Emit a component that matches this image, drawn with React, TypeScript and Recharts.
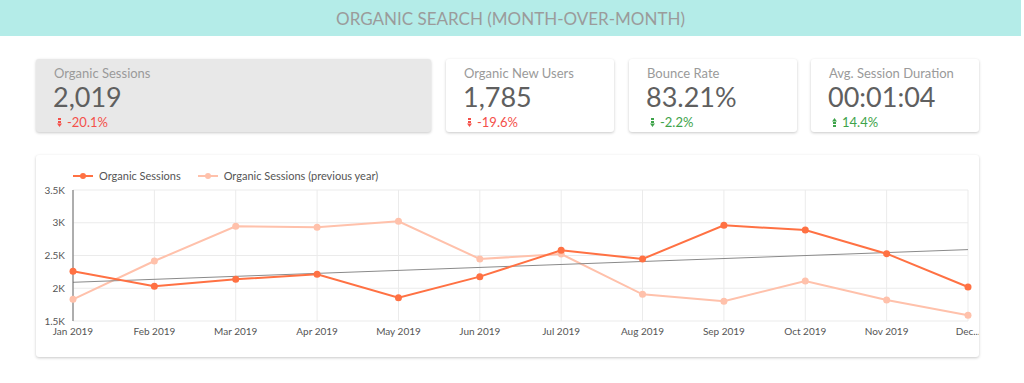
import { LineChart, Line, XAxis, YAxis, CartesianGrid, Legend, ReferenceLine } from "recharts";

const months = [
  "Jan 2019", "Feb 2019", "Mar 2019", "Apr 2019", "May 2019", "Jun 2019",
  "Jul 2019", "Aug 2019", "Sep 2019", "Oct 2019", "Nov 2019", "Dec 2019",
];
const sessions = [2260, 2030, 2137, 2213, 1856, 2177, 2579, 2447, 2961, 2889, 2528, 2019];
const sessionsPrevYear = [1831, 2416, 2946, 2930, 3022, 2447, 2523, 1908, 1801, 2111, 1821, 1587];
// trend line (start = Jan, end = Dec)
const trendEnds = [2091, 2590];
const yTicks = [1500, 2000, 2500, 3000, 3500];
const gridValues = [1500, 1750, 2000, 2250, 2500, 2750, 3000, 3250, 3500];

const kpiTitles = ["Organic Sessions", "Organic New Users", "Bounce Rate", "Avg. Session Duration"];
const kpiValues = ["2,019", "1,785", "83.21%", "00:01:04"];
const kpiDeltas = ["-20.1%", "-19.6%", "-2.2%", "14.4%"];
const kpiDeltaUp = [false, false, false, true];
const kpiDeltaGood = [false, false, true, true];

const SESSIONS_COLOR = "#ff7143";
const PREV_COLOR = "#ffc1ab";
const FONT = "Lato, 'Open Sans', sans-serif";

const cardBoxes = [
  { left: 36, width: 395, bg: "#e8e8e8" },
  { left: 446, width: 168, bg: "#fff" },
  { left: 629, width: 168, bg: "#fff" },
  { left: 811, width: 168, bg: "#fff" },
];

const chartData = months.map((month, i) => ({
  month,
  sessions: sessions[i],
  prev: sessionsPrevYear[i],
}));

const legendItems = [
  { name: "Organic Sessions", color: SESSIONS_COLOR },
  { name: "Organic Sessions (previous year)", color: PREV_COLOR },
];

function Arrow({ up, color }: { up: boolean; color: string }) {
  return (
    <svg width="5" height="9" viewBox="0 0 5 9" style={{ marginRight: 5, transform: up ? "rotate(180deg)" : undefined }}>
      <rect x="1" y="0" width="3" height="2" fill={color} />
      <rect x="1" y="3" width="3" height="2" fill={color} />
      <path d="M0 5.5 L5 5.5 L2.5 9 Z" fill={color} />
    </svg>
  );
}

function ChartLegend() {
  return (
    <div style={{ display: "flex", alignItems: "center", fontFamily: FONT, fontSize: 11, color: "#555" }}>
      {legendItems.map((item) => (
        <div key={item.name} style={{ display: "flex", alignItems: "center", marginRight: 17 }}>
          <svg width="20" height="8" style={{ marginRight: 6 }}>
            <line x1="0" y1="4" x2="20" y2="4" stroke={item.color} strokeWidth="2" />
            <circle cx="10" cy="4" r="3" fill={item.color} />
          </svg>
          <span>{item.name}</span>
        </div>
      ))}
    </div>
  );
}

export default function App() {
  return (
    <div style={{ position: "relative", width: 1024, height: 383, background: "#fff", fontFamily: FONT, overflow: "hidden" }}>
      <style>{`body{margin:0}`}</style>
      <div
        style={{
          position: "absolute", left: 0, top: 0, width: 1021, height: 36, background: "#b4ece8",
          display: "flex", alignItems: "center", justifyContent: "center",
          fontSize: 17, color: "#9b9b9b", letterSpacing: 0,
        }}
      >
        ORGANIC SEARCH (MONTH-OVER-MONTH)
      </div>

      {kpiTitles.map((title, i) => {
        const box = cardBoxes[i];
        const deltaColor = kpiDeltaGood[i] ? "#3ea34a" : "#f4504a";
        return (
          <div
            key={title}
            style={{
              position: "absolute", left: box.left, top: 59, width: box.width, height: 73,
              background: box.bg, borderRadius: 3, boxShadow: "0 1px 3px rgba(0,0,0,0.22)",
            }}
          >
            <div style={{ position: "absolute", left: 18, top: 6, fontSize: 13, lineHeight: "16px", color: "#9a9a9a" }}>{title}</div>
            <div style={{ position: "absolute", left: 17, top: 23, fontSize: 27, lineHeight: "30px", color: "#5f5f5f" }}>{kpiValues[i]}</div>
            <div style={{ position: "absolute", left: 21, top: 55, fontSize: 13, lineHeight: "16px", color: deltaColor, display: "flex", alignItems: "center" }}>
              <Arrow up={kpiDeltaUp[i]} color={deltaColor} />
              {kpiDeltas[i]}
            </div>
          </div>
        );
      })}

      <div
        style={{
          position: "absolute", left: 36, top: 155, width: 943, height: 202,
          background: "#fff", borderRadius: 3, boxShadow: "0 1px 3px rgba(0,0,0,0.22)",
        }}
      >
        <LineChart width={943} height={202} data={chartData} margin={{ top: 35, right: 11, left: 7, bottom: 6 }}>
          <CartesianGrid stroke="#ebebeb" horizontalValues={gridValues} />
          <XAxis
            dataKey="month"
            interval={0}
            axisLine={false}
            tickLine={false}
            tickSize={0}
            tickMargin={7}
            height={30}
            tick={{ fontSize: 10, fill: "#555", fontFamily: FONT }}
            tickFormatter={(v: string, i: number) => (i === months.length - 1 ? v.slice(0, 3) + "..." : v)}
          />
          <YAxis
            domain={[1500, 3500]}
            ticks={yTicks}
            width={30}
            axisLine={{ stroke: "#666" }}
            tickLine={false}
            tick={{ fontSize: 10, fill: "#555", fontFamily: FONT }}
            tickFormatter={(v: number) => v / 1000 + "K"}
          />
          <Legend
            verticalAlign="middle"
            align="center"
            wrapperStyle={{ top: 14, left: 37, width: "auto" }}
            content={() => <ChartLegend />}
          />
          <Line
            type="linear"
            dataKey="prev"
            name="Organic Sessions (previous year)"
            stroke={PREV_COLOR}
            strokeWidth={2}
            dot={{ r: 3.5, fill: PREV_COLOR, stroke: PREV_COLOR, strokeWidth: 0 }}
            activeDot={false}
            isAnimationActive={false}
          />
          <ReferenceLine
            segment={[
              { x: months[0], y: trendEnds[0] },
              { x: months[months.length - 1], y: trendEnds[1] },
            ]}
            stroke="#8a8a8a"
            strokeWidth={1}
          />
          <Line
            type="linear"
            dataKey="sessions"
            name="Organic Sessions"
            stroke={SESSIONS_COLOR}
            strokeWidth={2}
            dot={{ r: 3.5, fill: SESSIONS_COLOR, stroke: SESSIONS_COLOR, strokeWidth: 0 }}
            activeDot={false}
            isAnimationActive={false}
          />
        </LineChart>
      </div>
    </div>
  );
}
